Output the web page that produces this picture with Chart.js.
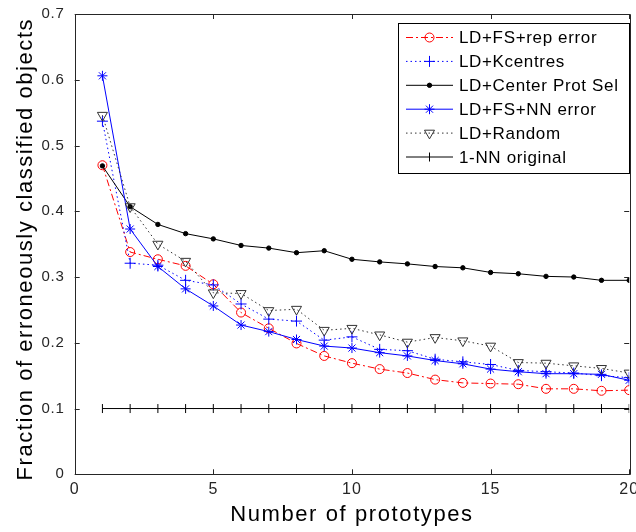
<!DOCTYPE html>
<html>
<head>
<meta charset="utf-8">
<script src="https://cdn.jsdelivr.net/npm/chart.js@4"></script>
<style>
html,body{margin:0;padding:0;background:#fff;}
#c{display:block;}
</style>
</head>
<body>
<canvas id="c" width="636" height="532"></canvas>
<script>
const prototypes = [1,2,3,4,5,6,7,8,9,10,11,12,13,14,15,16,17,18,19,20];
const seriesNames = ['LD+FS+rep error','LD+Kcentres','LD+Center Prot Sel','LD+FS+NN error','LD+Random','1-NN original'];
const fsRepError   = [0.470,0.338,0.327,0.317,0.289,0.246,0.222,0.199,0.180,0.169,0.160,0.154,0.144,0.139,0.138,0.137,0.130,0.130,0.127,0.128];
const kcentres     = [0.537,0.321,0.318,0.295,0.288,0.259,0.236,0.233,0.204,0.209,0.190,0.188,0.175,0.171,0.167,0.158,0.156,0.154,0.150,0.147];
const centerProt   = [0.469,0.407,0.380,0.366,0.358,0.348,0.344,0.337,0.340,0.327,0.323,0.320,0.316,0.314,0.307,0.305,0.301,0.300,0.295,0.295];
const fsNNError    = [0.606,0.373,0.316,0.282,0.256,0.227,0.217,0.205,0.195,0.192,0.185,0.180,0.173,0.168,0.160,0.156,0.153,0.153,0.152,0.143];
const randomSel    = [0.546,0.407,0.350,0.324,0.276,0.275,0.249,0.251,0.219,0.222,0.212,0.201,0.208,0.203,0.195,0.170,0.169,0.165,0.161,0.154];
const nnOriginal   = [0.1,0.1,0.1,0.1,0.1,0.1,0.1,0.1,0.1,0.1,0.1,0.1,0.1,0.1,0.1,0.1,0.1,0.1,0.1,0.1];
const xTicks = [0,5,10,15,20];
const yTicks = [0,0.1,0.2,0.3,0.4,0.5,0.6,0.7];

const FONT = "'Liberation Sans', Arial, sans-serif";
const pts = arr => prototypes.map((x,i)=>({x:x,y:arr[i]}));

const styles = [
  {data:fsRepError, color:'#ff0000', dash:[7,3,2,3], pointStyle:'circle', radius:4.5, fill:'rgba(0,0,0,0)', rot:0},
  {data:kcentres, color:'#0000ff', dash:[1.5,3], pointStyle:'cross', radius:5.5, fill:'#0000ff', rot:0},
  {data:centerProt, color:'#000000', dash:[], pointStyle:'circle', radius:2.2, fill:'#000000', rot:0},
  {data:fsNNError, color:'#0000ff', dash:[], pointStyle:'star', radius:5, fill:'#0000ff', rot:0},
  {data:randomSel, color:'#333333', dash:[1.5,3], pointStyle:'triangle', radius:5.8, fill:'rgba(0,0,0,0)', rot:180},
  {data:nnOriginal, color:'#000000', dash:[], pointStyle:'line', radius:4.5, fill:'#000000', rot:90}
];

const datasets = styles.map((s,i)=>({
  label: seriesNames[i],
  data: pts(s.data),
  borderColor: s.color,
  backgroundColor: s.fill,
  borderWidth: 1,
  borderDash: s.dash,
  pointStyle: s.pointStyle,
  pointRadius: s.radius,
  pointRotation: s.rot,
  pointBorderColor: s.color,
  pointBackgroundColor: s.fill,
  pointBorderWidth: 1,
  tension: 0,
  order: 10 - i
}));

function spaced(scale, titleSp, labelSp, shiftX, shiftY){
  if (scale._spacedPatched) return;
  scale._spacedPatched = true;
  const dt = scale.drawTitle, dl = scale.drawLabels;
  scale.drawTitle = function(){ const c=this.ctx; c.save(); c.translate(shiftX, shiftY); c.letterSpacing=titleSp; dt.apply(this, arguments); c.restore(); c.letterSpacing='0px'; };
  scale.drawLabels = function(){ const c=this.ctx; c.save(); c.letterSpacing=labelSp; dl.apply(this, arguments); c.restore(); c.letterSpacing='0px'; };
}

const boxPlugin = {
  id: 'matlabBox',
  afterDatasetsDraw(chart){
    const ctx = chart.ctx, a = chart.chartArea;
    const xs = chart.scales.x, ys = chart.scales.y;
    ctx.save();
    ctx.strokeStyle = '#262626';
    ctx.lineWidth = 1;
    ctx.setLineDash([]);
    ctx.beginPath();
    ctx.rect(Math.round(a.left)+0.5, Math.round(a.top)+0.5, Math.round(a.right-a.left), Math.round(a.bottom-a.top));
    ctx.stroke();
    const tl = 5;
    ctx.beginPath();
    xTicks.forEach(v=>{
      const px = Math.round(xs.getPixelForValue(v))+0.5;
      ctx.moveTo(px, a.bottom); ctx.lineTo(px, a.bottom - tl);
      ctx.moveTo(px, a.top); ctx.lineTo(px, a.top + tl);
    });
    yTicks.forEach(v=>{
      const py = Math.round(ys.getPixelForValue(v))+0.5;
      ctx.moveTo(a.left, py); ctx.lineTo(a.left + tl, py);
      ctx.moveTo(a.right, py); ctx.lineTo(a.right - tl, py);
    });
    ctx.stroke();

    // legend
    const lx = 398, ly = 23, lw = 231, lh = 150;
    ctx.fillStyle = '#ffffff';
    ctx.fillRect(lx, ly, lw, lh);
    ctx.strokeStyle = '#000000';
    ctx.strokeRect(lx+0.5, ly+0.5, lw, lh);
    ctx.font = '17px ' + FONT;
    ctx.textBaseline = 'middle';
    ctx.textAlign = 'left';
    chart.data.datasets.forEach((ds,i)=>{
      const y = 37.5 + i*23.9;
      ctx.save();
      ctx.strokeStyle = ds.borderColor;
      ctx.lineWidth = 1;
      ctx.setLineDash(ds.borderDash);
      ctx.beginPath();
      ctx.moveTo(406, y); ctx.lineTo(453, y);
      ctx.stroke();
      ctx.setLineDash([]);
      ctx.fillStyle = ds.pointBackgroundColor;
      ctx.strokeStyle = ds.pointBorderColor;
      Chart.helpers.drawPoint(ctx, {pointStyle: ds.pointStyle, rotation: ds.pointRotation, radius: ds.pointRadius, borderWidth: 1}, 429.5, y);
      ctx.restore();
      ctx.save();
      ctx.letterSpacing = '0.65px';
      ctx.fillStyle = '#000000';
      ctx.fillText(ds.label, 459, y+1);
      ctx.restore();
    });
    ctx.restore();
  }
};

new Chart(document.getElementById('c'), {
  type: 'line',
  data: { datasets },
  options: {
    responsive: false,
    animation: false,
    devicePixelRatio: 1,
    layout: { padding: { left: 0, right: 5, top: 14, bottom: 0 } },
    plugins: { legend: { display: false }, tooltip: { enabled: false } },
    scales: {
      x: {
        type: 'linear', min: 0, max: 20,
        afterBuildTicks(s){ s.ticks = xTicks.map(v=>({value:v})); },
        afterFit(s){ s.height = 57.7; s.paddingLeft = 0; s.paddingRight = 0; spaced(s, '1.6px', '1px', 0, 0); },
        grid: { display: false, drawTicks: false },
        border: { display: false },
        ticks: { color: '#262626', font: { family: FONT, size: 16 }, padding: 6, maxRotation: 0 },
        title: { display: true, text: 'Number of prototypes', color: '#000', font: { family: FONT, size: 22 }, padding: { top: 0, bottom: 4 } }
      },
      y: {
        type: 'linear', min: 0, max: 0.7,
        afterBuildTicks(s){ s.ticks = yTicks.map(v=>({value:v})); },
        afterFit(s){ s.width = 74.7; s.paddingTop = 0; s.paddingBottom = 0; spaced(s, '1.55px', '0.8px', 0, 5); },
        grid: { display: false, drawTicks: false },
        border: { display: false },
        ticks: { color: '#262626', font: { family: FONT, size: 15 }, padding: 10,
          callback: v => (v === 0 ? '0' : v.toFixed(1)) },
        title: { display: true, text: 'Fraction of erroneously classified objects', color: '#000', font: { family: FONT, size: 22 }, padding: { top: 13, bottom: 0 } }
      }
    }
  },
  plugins: [boxPlugin]
});
</script>
</body>
</html>
